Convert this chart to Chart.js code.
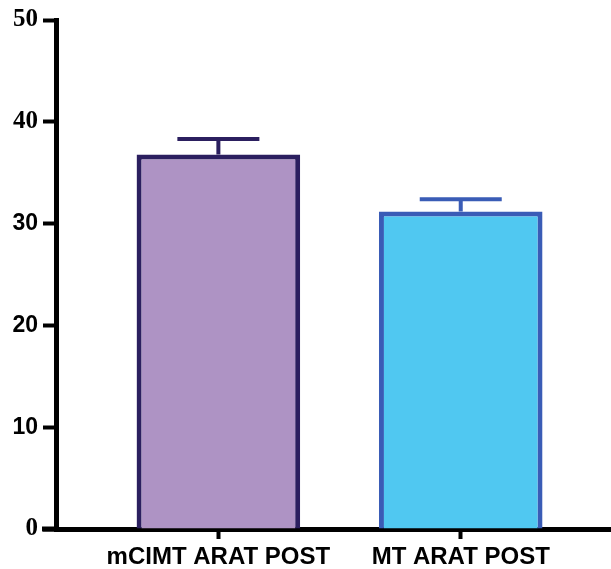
<!DOCTYPE html>
<html>
<head>
<meta charset="utf-8">
<script src="https://cdn.jsdelivr.net/npm/chart.js@4.4.1/dist/chart.umd.min.js"></script>
<style>
  html, body { margin: 0; padding: 0; background: #fff; }
  #wrap { width: 611px; height: 569px; }
</style>
</head>
<body>
<div id="wrap"><canvas id="myChart"></canvas></div>
<script>
var categories = ["mCIMT ARAT POST", "MT ARAT POST"];
var means = [36.8, 31.2];
var errors = [1.5, 1.2];
var yTicks = [0, 10, 20, 30, 40, 50];

var fills = ["#ae93c4", "#50c8f1"];
var borders = ["#2b1f5f", "#3a5cb6"];

// error bars drawn through the y scale
var errorBars = {
    id: "errorBars",
    afterDatasetsDraw: function (chart) {
        var c = chart.ctx;
        var y = chart.scales.y;
        var meta = chart.getDatasetMeta(0);
        meta.data.forEach(function (bar, i) {
            var top = y.getPixelForValue(means[i] + errors[i]);
            var base = y.getPixelForValue(means[i]);
            c.save();
            c.strokeStyle = borders[i];
            c.lineWidth = 4;
            c.beginPath();
            c.moveTo(bar.x, base);
            c.lineTo(bar.x, top);
            c.moveTo(bar.x - 41, top);
            c.lineTo(bar.x + 41, top);
            c.stroke();
            c.restore();
        });
    },
    afterDraw: function (chart) {
        // x axis line runs a little past the y axis on the left
        var c = chart.ctx;
        var a = chart.chartArea;
        c.save();
        c.strokeStyle = "#000";
        c.lineWidth = 5;
        c.beginPath();
        c.moveTo(42, a.bottom);
        c.lineTo(a.left, a.bottom);
        c.stroke();
        c.restore();
    }
};

var ctx = document.getElementById("myChart").getContext("2d");
var myChart = new Chart(ctx, {
    type: "bar",
    data: {
        datasets: [{
            data: means.map(function (m, i) { return { x: i, y: m }; }),
            backgroundColor: fills,
            borderColor: borders,
            borderWidth: 5,
            borderSkipped: "bottom",
            barPercentage: 0.675,
            categoryPercentage: 1
        }]
    },
    options: {
        responsive: true,
        maintainAspectRatio: false,
        animation: false,
        layout: { padding: { top: 10, right: 0, left: 0, bottom: 0 } },
        plugins: { legend: { display: false }, tooltip: { enabled: false } },
        scales: {
            x: {
                type: "linear",
                offset: false,
                min: -0.67,
                max: 1.62,
                afterBuildTicks: function (scale) {
                    scale.ticks = categories.map(function (c, i) { return { value: i }; });
                },
                afterFit: function (scale) { scale.height = 40; },
                ticks: {
                    color: "#000",
                    padding: 6,
                    font: { family: "Liberation Sans", weight: "bold", size: 24, lineHeight: 1 },
                    callback: function (v) { return categories[v]; },
                    maxRotation: 0,
                    autoSkip: false
                },
                grid: { offset: false, drawOnChartArea: false, drawTicks: true, tickLength: 10, tickWidth: 4, color: "#000" },
                border: { display: true, color: "#000", width: 5 }
            },
            y: {
                min: 0,
                max: 50,
                afterBuildTicks: function (scale) {
                    scale.ticks = yTicks.map(function (v) { return { value: v }; });
                },
                afterFit: function (scale) { scale.width = 56; },
                ticks: {
                    color: "#000",
                    padding: 5,
                    font: function (c) {
                        var serif = c.tick && [0, 40, 50].indexOf(c.tick.value) >= 0;
                        return { family: serif ? "Liberation Serif" : "Liberation Sans", weight: "bold", size: serif ? 25 : 23 };
                    }
                },
                grid: { drawOnChartArea: false, drawTicks: true, tickLength: 13, tickWidth: 4, color: "#000" },
                border: { display: true, color: "#000", width: 5 }
            }
        }
    },
    plugins: [errorBars]
});
</script>
</body>
</html>
